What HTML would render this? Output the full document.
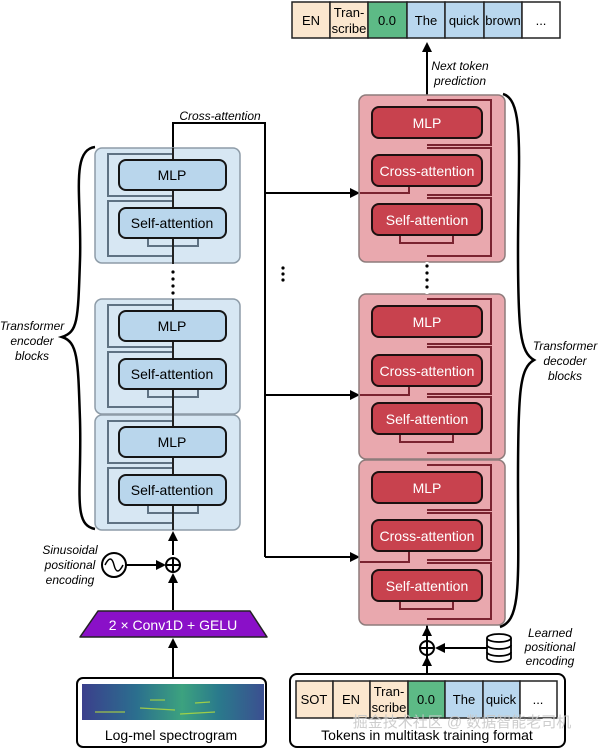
<!DOCTYPE html>
<html><head><meta charset="utf-8"><style>
html,body{margin:0;padding:0;background:#fff;}
svg{display:block;}
text{font-family:"Liberation Sans","Noto Sans CJK SC",sans-serif;}
.bt{font-size:14px;text-anchor:middle;}
.it{font-style:italic;font-size:12px;text-anchor:middle;}
.tk{font-size:13px;text-anchor:middle;}
</style></head><body>
<svg width="600" height="750" viewBox="0 0 600 750" xmlns="http://www.w3.org/2000/svg">
<defs>
<marker id="ar" markerWidth="10" markerHeight="10" refX="8" refY="5" orient="auto" markerUnits="userSpaceOnUse">
<path d="M0,0 L10,5 L0,10 z" fill="#000"/></marker>
</defs>

<!-- top tokens -->
<g stroke="#222" stroke-width="1.5">
<rect x="292" y="2" width="38" height="36" fill="#fbe7cf"/>
<rect x="330" y="2" width="38" height="36" fill="#fbe7cf"/>
<rect x="368" y="2" width="39" height="36" fill="#5dba86"/>
<rect x="407" y="2" width="38" height="36" fill="#b9d7ee"/>
<rect x="445" y="2" width="39" height="36" fill="#b9d7ee"/>
<rect x="484" y="2" width="38" height="36" fill="#b9d7ee"/>
<rect x="522" y="2" width="38" height="36" fill="#fff"/>
</g>
<text class="tk" x="311" y="25">EN</text>
<text class="tk" x="349" y="17">Tran-</text><text class="tk" x="349" y="33">scribe</text>
<text class="tk" x="387" y="25">0.0</text>
<text class="tk" x="426" y="25">The</text>
<text class="tk" x="464" y="25">quick</text>
<text class="tk" x="503" y="25">brown</text>
<text class="tk" x="541" y="25">...</text>

<!-- decoder main line -->
<line x1="427" y1="660" x2="427" y2="44" stroke="#000" stroke-width="2" marker-end="url(#ar)"/>
<text class="it" x="460" y="70">Next token</text>
<text class="it" x="460" y="85">prediction</text>

<!-- encoder connections -->
<path d="M173,148 V123 H265 V557" fill="none" stroke="#000" stroke-width="2"/>
<text class="it" x="220" y="120">Cross-attention</text>
<line x1="265" y1="193" x2="358" y2="193" stroke="#000" stroke-width="2" marker-end="url(#ar)"/>
<line x1="265" y1="395" x2="358" y2="395" stroke="#000" stroke-width="2" marker-end="url(#ar)"/>
<line x1="265" y1="557" x2="358" y2="557" stroke="#000" stroke-width="2" marker-end="url(#ar)"/>
<g fill="#000"><circle cx="283" cy="268" r="1.6"/><circle cx="283" cy="274" r="1.6"/><circle cx="283" cy="280" r="1.6"/></g>

<!-- encoder blocks -->
<g>
<rect x="95" y="148" width="145" height="115" rx="7" fill="#d7e7f3" stroke="#8e9ca8" stroke-width="1.5"/>
<rect x="95" y="299" width="145" height="115" rx="7" fill="#d7e7f3" stroke="#8e9ca8" stroke-width="1.5"/>
<rect x="95" y="415" width="145" height="115" rx="7" fill="#d7e7f3" stroke="#8e9ca8" stroke-width="1.5"/>
</g>
<g fill="none" stroke="#5f7283" stroke-width="2">
<path d="M173,154 H108 V196 H173 M173,201 H108 V256 H173 M148,238 V246 H198 V238"/>
<path d="M173,305 H108 V347 H173 M173,352 H108 V407 H173 M148,389 V397 H198 V389"/>
<path d="M173,421 H108 V463 H173 M173,468 H108 V523 H173 M148,505 V513 H198 V505"/>
</g>
<line x1="173" y1="148" x2="173" y2="264" stroke="#222" stroke-width="2"/>
<line x1="173" y1="299" x2="173" y2="530" stroke="#222" stroke-width="2"/>
<g fill="#000"><circle cx="173" cy="272" r="1.6"/><circle cx="173" cy="279" r="1.6"/><circle cx="173" cy="286" r="1.6"/><circle cx="173" cy="293" r="1.6"/></g>
<g fill="#b9d6ec" stroke="#151515" stroke-width="2">
<rect x="119" y="160" width="107" height="30" rx="7"/>
<rect x="119" y="208" width="107" height="30" rx="7"/>
<rect x="119" y="311" width="107" height="30" rx="7"/>
<rect x="119" y="359" width="107" height="30" rx="7"/>
<rect x="119" y="427" width="107" height="30" rx="7"/>
<rect x="119" y="475" width="107" height="30" rx="7"/>
</g>
<text class="bt" x="172" y="180">MLP</text>
<text class="bt" x="172" y="228">Self-attention</text>
<text class="bt" x="172" y="331">MLP</text>
<text class="bt" x="172" y="379">Self-attention</text>
<text class="bt" x="172" y="447">MLP</text>
<text class="bt" x="172" y="495">Self-attention</text>

<!-- left brace -->
<path d="M95,147 C70,150 82,200 80,260 C78,320 78,332 62,337 C78,342 78,360 80,420 C82,490 72,525 95,529" fill="none" stroke="#000" stroke-width="2.5"/>
<text class="it" x="32" y="330">Transformer</text>
<text class="it" x="32" y="345">encoder</text>
<text class="it" x="32" y="360">blocks</text>

<!-- encoder input -->
<line x1="173" y1="555" x2="173" y2="533" stroke="#000" stroke-width="2" marker-end="url(#ar)"/>
<circle cx="173" cy="565" r="7" fill="#fff" stroke="#000" stroke-width="2"/>
<path d="M166,565 H180 M173,558 V572" stroke="#000" stroke-width="2"/>
<line x1="173" y1="610" x2="173" y2="575" stroke="#000" stroke-width="2" marker-end="url(#ar)"/>
<circle cx="114" cy="565" r="12" fill="#fff" stroke="#000" stroke-width="2"/>
<path d="M105,565 C109,557 112,557 114,565 C116,573 119,573 123,565" fill="none" stroke="#000" stroke-width="1.5"/>
<line x1="126" y1="565" x2="164" y2="565" stroke="#000" stroke-width="2" marker-end="url(#ar)"/>
<text class="it" x="70" y="554">Sinusoidal</text>
<text class="it" x="70" y="569">positional</text>
<text class="it" x="70" y="584">encoding</text>
<path d="M98,611 H250 L267,637 H80 Z" fill="#8a10c8" stroke="#222" stroke-width="1.5" stroke-linejoin="round"/>
<text x="173" y="630" style="font-size:14px;fill:#fff;text-anchor:middle">2 × Conv1D + GELU</text>
<line x1="173" y1="678" x2="173" y2="640" stroke="#000" stroke-width="2" marker-end="url(#ar)"/>
<rect x="77" y="678" width="189" height="69" rx="6" fill="#fff" stroke="#000" stroke-width="2"/>
<defs><linearGradient id="sp" x1="0" y1="0" x2="1" y2="0">
<stop offset="0" stop-color="#3b3f8c"/><stop offset="0.3" stop-color="#2b6f8e"/><stop offset="0.55" stop-color="#3ca27f"/><stop offset="0.75" stop-color="#2a7a8c"/><stop offset="1" stop-color="#3b4f90"/></linearGradient></defs>
<rect x="82" y="684" width="182" height="36" fill="url(#sp)"/>
<g stroke="#b8de3a" stroke-width="1.2" opacity="0.8">
<line x1="95" y1="712" x2="125" y2="712"/><line x1="140" y1="708" x2="175" y2="710"/><line x1="180" y1="714" x2="215" y2="712"/><line x1="150" y1="700" x2="165" y2="700"/><line x1="195" y1="703" x2="210" y2="702"/>
</g>
<text x="171" y="740" style="font-size:14px;text-anchor:middle">Log-mel spectrogram</text>

<!-- decoder blocks -->
<g fill="#e9a8ae" stroke="#8e7c7c" stroke-width="1.5">
<rect x="359" y="95" width="146" height="167" rx="7"/>
<rect x="359" y="294" width="146" height="165" rx="7"/>
<rect x="359" y="460" width="146" height="165" rx="7"/>
</g>
<g fill="none" stroke="#7a2330" stroke-width="2">
<path d="M427,100 H491 V145 H427 M427,148 H491 V195 H427 M427,198 H491 V256 H427 M400,235 V243 H453 V235 M360,193 H409 V186"/>
<path d="M427,299 H491 V344 H427 M427,347 H491 V394 H427 M427,397 H491 V453 H427 M400,434 V442 H453 V434 M360,395 H409 V386"/>
<path d="M427,465 H491 V510 H427 M427,513 H491 V560 H427 M427,563 H491 V619 H427 M400,601 V609 H453 V601 M360,562 H409 V551"/>
</g>
<line x1="427" y1="262" x2="427" y2="294" stroke="#fff" stroke-width="3"/>
<g fill="#000"><circle cx="427" cy="266" r="1.6"/><circle cx="427" cy="273" r="1.6"/><circle cx="427" cy="280" r="1.6"/><circle cx="427" cy="287" r="1.6"/></g>
<g fill="#c8424e" stroke="#1c1010" stroke-width="2">
<rect x="372" y="107" width="110" height="31" rx="7"/>
<rect x="372" y="155" width="110" height="31" rx="7"/>
<rect x="372" y="204" width="110" height="31" rx="7"/>
<rect x="372" y="306" width="110" height="31" rx="7"/>
<rect x="372" y="355" width="110" height="31" rx="7"/>
<rect x="372" y="403" width="110" height="31" rx="7"/>
<rect x="372" y="472" width="110" height="31" rx="7"/>
<rect x="372" y="520" width="110" height="31" rx="7"/>
<rect x="372" y="570" width="110" height="31" rx="7"/>
</g>
<g fill="#fff">
<text class="bt" x="427" y="128">MLP</text>
<text class="bt" x="427" y="176">Cross-attention</text>
<text class="bt" x="427" y="225">Self-attention</text>
<text class="bt" x="427" y="327">MLP</text>
<text class="bt" x="427" y="376">Cross-attention</text>
<text class="bt" x="427" y="424">Self-attention</text>
<text class="bt" x="427" y="493">MLP</text>
<text class="bt" x="427" y="541">Cross-attention</text>
<text class="bt" x="427" y="591">Self-attention</text>
</g>

<!-- right brace -->
<path d="M503,94 C525,100 518,160 518,250 C518,330 520,352 534,360 C520,368 518,390 518,480 C518,580 522,620 500,627" fill="none" stroke="#000" stroke-width="2.5"/>
<text class="it" x="565" y="350">Transformer</text>
<text class="it" x="565" y="365">decoder</text>
<text class="it" x="565" y="380">blocks</text>

<!-- decoder input -->
<line x1="427" y1="640" x2="427" y2="628" stroke="#000" stroke-width="2" marker-end="url(#ar)"/>
<circle cx="427" cy="648" r="7" fill="#fff" stroke="#000" stroke-width="2"/>
<path d="M420,648 H434 M427,641 V655" stroke="#000" stroke-width="2"/>
<line x1="427" y1="673" x2="427" y2="658" stroke="#000" stroke-width="2" marker-end="url(#ar)"/>
<line x1="487" y1="648" x2="437" y2="648" stroke="#000" stroke-width="2" marker-end="url(#ar)"/>
<g fill="#fff" stroke="#000" stroke-width="1.8">
<path d="M487,638 V658 A12,4 0 0 0 511,658 V638"/>
<ellipse cx="499" cy="638" rx="12" ry="4"/>
<path d="M487,645 A12,4 0 0 0 511,645 M487,652 A12,4 0 0 0 511,652" fill="none"/>
</g>
<text class="it" x="550" y="637">Learned</text>
<text class="it" x="550" y="651">positional</text>
<text class="it" x="550" y="665">encoding</text>
<rect x="290" y="674" width="275" height="73" rx="7" fill="#fff" stroke="#000" stroke-width="2"/>
<g stroke="#222" stroke-width="1.5">
<rect x="296" y="681" width="37" height="37" fill="#fbe7cf"/>
<rect x="333" y="681" width="37" height="37" fill="#fbe7cf"/>
<rect x="370" y="681" width="38" height="37" fill="#fbe7cf"/>
<rect x="408" y="681" width="37" height="37" fill="#5dba86"/>
<rect x="445" y="681" width="38" height="37" fill="#b9d7ee"/>
<rect x="483" y="681" width="37" height="37" fill="#b9d7ee"/>
<rect x="520" y="681" width="37" height="37" fill="#fff"/>
</g>
<text class="tk" x="314" y="704">SOT</text>
<text class="tk" x="351" y="704">EN</text>
<text class="tk" x="389" y="696">Tran-</text><text class="tk" x="389" y="712">scribe</text>
<text class="tk" x="426" y="704">0.0</text>
<text class="tk" x="464" y="704">The</text>
<text class="tk" x="501" y="704">quick</text>
<text class="tk" x="538" y="704">...</text>
<text x="427" y="740" style="font-size:14px;text-anchor:middle">Tokens in multitask training format</text>
<text x="462" y="727" style="font-size:15px;fill:#c8c8c8;text-anchor:middle;opacity:0.9">掘金技术社区 @ 数据智能老司机</text>
</svg>
</body></html>
